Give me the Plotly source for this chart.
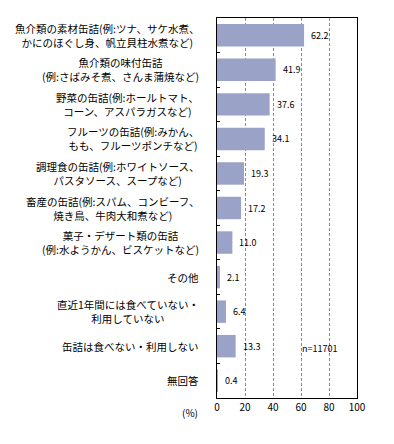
import plotly.graph_objects as go

categories = [
    "魚介類の素材缶詰(例:ツナ、サケ水煮、<br>かにのほぐし身、帆立貝柱水煮など)",
    "魚介類の味付缶詰<br>(例:さばみそ煮、さんま蒲焼など)",
    "野菜の缶詰(例:ホールトマト、<br>コーン、アスパラガスなど)",
    "フルーツの缶詰(例:みかん、<br>もも、フルーツポンチなど)",
    "調理食の缶詰(例:ホワイトソース、<br>パスタソース、スープなど)",
    "畜産の缶詰(例:スパム、コンビーフ、<br>焼き鳥、牛肉大和煮など)",
    "菓子・デザート類の缶詰<br>(例:水ようかん、ビスケットなど)",
    "その他",
    "直近1年間には食べていない・<br>利用していない",
    "缶詰は食べない・利用しない",
    "無回答",
]
values = [62.2, 41.9, 37.6, 34.1, 19.3, 17.2, 11.0, 2.1, 6.4, 13.3, 0.4]
x_ticks = [0, 20, 40, 60, 80, 100]
n_label = "n=11701"
unit_label = "(%)"

FONT = "Noto Sans CJK JP, Noto Sans, sans-serif"

fig = go.Figure()
fig.add_trace(go.Bar(
    y=categories, x=values, orientation="h",
    marker=dict(color="#9aa2c8", line=dict(width=0)),
    hoverinfo="skip",
))

annotations = []
for c, v in zip(categories, values):
    annotations.append(dict(
        x=0, xref="paper", y=c, yref="y", text=c, showarrow=False,
        xanchor="right", yanchor="middle", align="center", xshift=-16,
        font=dict(family=FONT, size=10.5, color="#000"),
    ))
    annotations.append(dict(
        x=v, xref="x", y=c, yref="y", text=f"{v:.1f}", showarrow=False,
        xanchor="left", yanchor="middle", xshift=5,
        font=dict(family=FONT, size=9, color="#000"),
    ))
annotations.append(dict(
    x=73, xref="x", y=categories[9], yref="y", text=n_label, showarrow=False,
    xanchor="center", yanchor="middle", yshift=-2,
    font=dict(family=FONT, size=9, color="#000"),
))
annotations.append(dict(
    x=0, xref="paper", y=0, yref="paper", text=unit_label, showarrow=False,
    xanchor="right", yanchor="middle", xshift=-17, yshift=-14,
    font=dict(family=FONT, size=10, color="#000"),
))

fig.update_layout(
    width=386, height=436,
    margin=dict(l=209, r=37, t=10, b=46),
    paper_bgcolor="white", plot_bgcolor="white",
    showlegend=False, bargap=0.35,
    font=dict(family=FONT, size=10, color="#000"),
    annotations=annotations,
    xaxis=dict(
        range=[0, 100], tickvals=x_ticks, ticktext=[str(t) for t in x_ticks],
        showgrid=True, gridcolor="#8a8a8a", griddash="3px,2px", gridwidth=1,
        showline=True, linecolor="#000", linewidth=1, mirror=True,
        ticks="", zeroline=False, tickfont=dict(family=FONT, size=10),
        fixedrange=True,
    ),
    yaxis=dict(
        type="category", autorange="reversed", showticklabels=False,
        showline=True, linecolor="#000", linewidth=1, mirror=True,
        ticks="inside", ticklen=3, tickcolor="#000", tickson="boundaries",
        showgrid=False, zeroline=False, fixedrange=True,
    ),
)

fig.write_html("out.html")
